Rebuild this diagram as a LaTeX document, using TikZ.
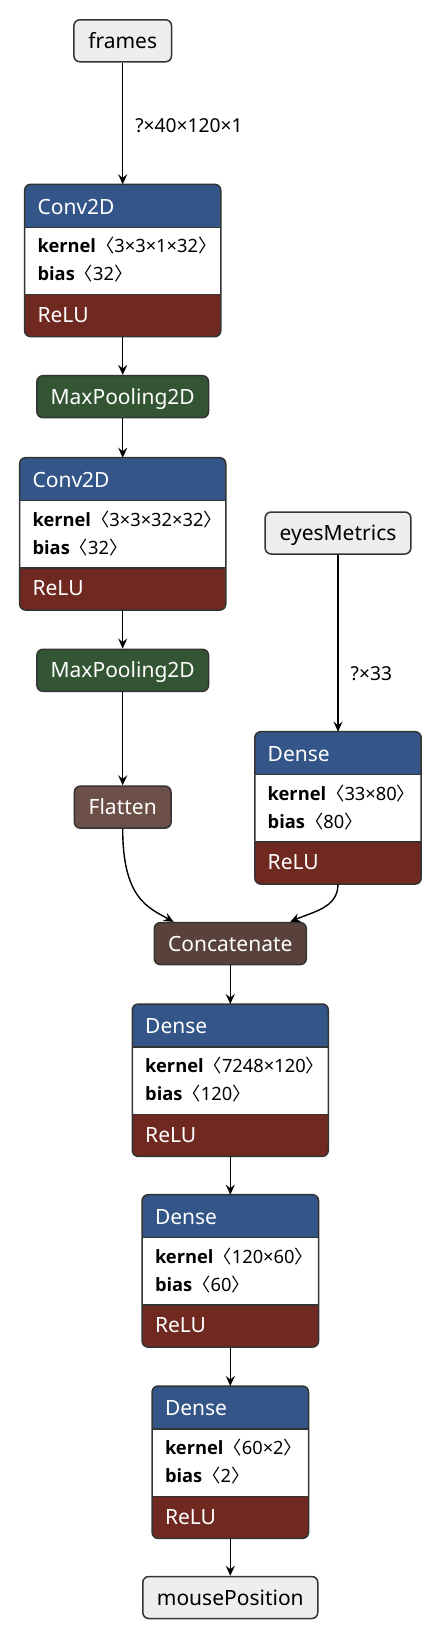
\documentclass[tikz,border=0pt]{standalone}
\usepackage{fontspec}
\setmainfont{Noto Sans}
\newfontfamily\kwfont{Open Sans}
\newfontfamily\cjkbr{Noto Sans CJK SC}
\usetikzlibrary{positioning,arrows.meta,calc}
\definecolor{layerBlue}{HTML}{335588}
\definecolor{actRed}{HTML}{702921}
\definecolor{poolGreen}{HTML}{335533}
\definecolor{shapeBrown}{HTML}{6C4F47}
\definecolor{tensorBrown}{HTML}{59423B}
\definecolor{inputGray}{HTML}{EEEEEE}
\definecolor{lineGray}{HTML}{333333}
\newcommand{\attr}[2]{{\kwfont\bfseries #1}{\cjkbr 〈}#2{\cjkbr 〉}}
\tikzset{
  opnode/.style={draw=lineGray, line width=1.5pt, rounded corners=6pt,
                 minimum height=42pt, inner sep=0pt, text=white,
                 font=\fontsize{21pt}{24pt}\selectfont,
                 text height=15pt, text depth=0pt},
  ionode/.style={opnode, fill=inputGray, text=black},
  layerframe/.style={minimum height=152pt, inner sep=0pt, fill=white},
  boxline/.style={draw=lineGray, line width=1.5pt},
  hdrtext/.style={anchor=base west, inner sep=0pt, text=white,
                  font=\fontsize{21pt}{24pt}\selectfont},
  attrtext/.style={anchor=base west, inner sep=0pt,
                   font=\fontsize{18.3pt}{20pt}\selectfont},
  edgearrow/.style={-{Stealth[length=10pt, width=9pt, inset=3.5pt]}, line width=1.4pt},
  edgelbl/.style={anchor=west, inner sep=0pt, xshift=12pt,
                  font=\fontsize{19.2pt}{20pt}\selectfont},
}

\begin{document}
\begin{tikzpicture}[x=1pt, y=-1pt]
\useasboundingbox (0,0) rectangle (442,1640);

%% Layer boxes: name / x-centre / top / width / type / kernel / bias
\foreach \id/\cx/\ytop/\bw/\ltype/\kshape/\bshape in {
  conv1/122.7/184.3/195.7/Conv2D/3×3×1×32/32,
  conv2/122.7/457.7/205.7/Conv2D/3×3×32×32/32,
  dense0/338/731.7/166/Dense/33×80/80,
  dense1/230.3/1004/195.6/Dense/7248×120/120,
  dense2/230.3/1194.7/176/Dense/120×60/60,
  dense3/230.3/1386/156/Dense/60×2/2%
} {
  \node[layerframe, minimum width=\bw, anchor=north] (\id) at (\cx,\ytop) {};
  \begin{scope}
    \clip[rounded corners=6pt] (\id.north west) rectangle (\id.south east);
    \fill[layerBlue] (\id.north west) rectangle ([yshift=-43pt]\id.north east);
    \fill[actRed] ([yshift=42pt]\id.south west) rectangle (\id.south east);
  \end{scope}
  \draw[boxline] ([yshift=-43pt]\id.north west) -- ([yshift=-43pt]\id.north east);
  \draw[boxline] ([yshift=42pt]\id.south west) -- ([yshift=42pt]\id.south east);
  \draw[boxline, rounded corners=6pt] (\id.north west) rectangle (\id.south east);
  \node[hdrtext] at ([xshift=12.7pt, yshift=-29.8pt]\id.north west) {\ltype};
  \node[attrtext] at ([xshift=12.7pt, yshift=-68.5pt]\id.north west) {\attr{kernel}{\kshape}};
  \node[attrtext] at ([xshift=12.7pt, yshift=-96.5pt]\id.north west) {\attr{bias}{\bshape}};
  \node[hdrtext] at ([xshift=12.7pt, yshift=-138pt]\id.north west) {ReLU};
}

%% Single-line nodes
\node[ionode, minimum width=97.6] (frames) at (122.7,40.8) {frames};
\node[opnode, fill=poolGreen, minimum width=171.6] (pool1) at (122.7,396.7) {MaxPooling2D};
\node[opnode, fill=poolGreen, minimum width=171.6] (pool2) at (122.7,670.3) {MaxPooling2D};
\node[opnode, fill=shapeBrown, minimum width=96.7] (flatten) at (122.7,807.1) {Flatten};
\node[ionode, minimum width=145.7] (eyes) at (338,533) {eyesMetrics};
\node[opnode, fill=tensorBrown, minimum width=152] (concat) at (230.3,943.6) {Concatenate};
\node[ionode, minimum width=175] (mouse) at (230.3,1597.5) {mousePosition};

%% Edges
\draw[edgearrow] (frames.south) -- node[edgelbl, pos=0.52] {?×40×120×1} (conv1.north);
\draw[edgearrow] (conv1.south) -- (pool1.north);
\draw[edgearrow] (pool1.south) -- (conv2.north);
\draw[edgearrow] (conv2.south) -- (pool2.north);
\draw[edgearrow] (pool2.south) -- (flatten.north);
\draw[edgearrow] (eyes.south) -- node[edgelbl, pos=0.67] {?×33} (dense0.north);
\draw[edgearrow] (flatten.south) .. controls +(0,70) and +(-25,-14) .. ([xshift=-56.7pt]concat.north);
\draw[edgearrow] (dense0.south) .. controls +(0,24) and +(22,-10) .. ([xshift=60pt]concat.north);
\draw[edgearrow] (concat.south) -- (dense1.north);
\draw[edgearrow] (dense1.south) -- (dense2.north);
\draw[edgearrow] (dense2.south) -- (dense3.north);
\draw[edgearrow] (dense3.south) -- (mouse.north);
\end{tikzpicture}
\end{document}
